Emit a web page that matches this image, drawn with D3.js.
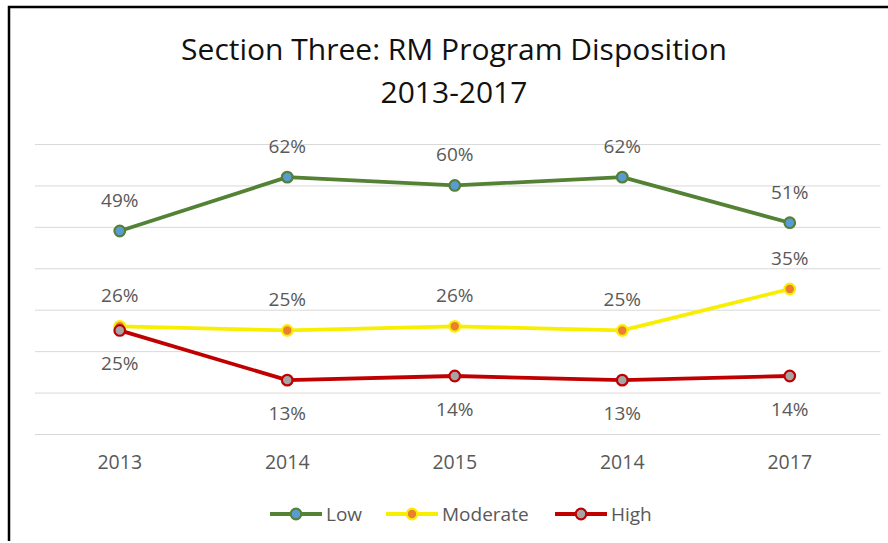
<!DOCTYPE html>
<html>
<head>
<meta charset="utf-8">
<script src="https://cdn.jsdelivr.net/npm/d3@7"></script>
<style>
	body { margin: 0; background: #fff; }
	svg { display: block; font-family: "Open Sans", sans-serif; }
	.label { fill: #595959; font-size: 19px; }
	.grid line { stroke: #d9d9d9; stroke-width: 1; }
</style>
</head>
<body>
<div id="vis1"></div>
<script>
// setting constants
const FRAME_HEIGHT = 543;
const FRAME_WIDTH = 888;
const MARGINS = {left: 36, right: 14.5, top: 144, bottom: 109};

// binding data
const CATEGORIES = ["2013", "2014", "2015", "2014", "2017"];
const LOW = [49, 62, 60, 62, 51];
const MODERATE = [26, 25, 26, 25, 35];
const HIGH = [25, 13, 14, 13, 14];
const SERIES_NAMES = ["Low", "Moderate", "High"];
const Y_TICKS = [0, 10, 20, 30, 40, 50, 60, 70];

const LINE_COLORS = ["#548235", "#f7ee00", "#c00000"];
const MARKER_COLORS = ["#5b9bd5", "#ed7d31", "#a5a5a5"];

const SERIES = [LOW, MODERATE, HIGH];

// adding frame
const FRAME =
d3.select("#vis1")
	.append("svg")
	.attr("height", FRAME_HEIGHT)
	.attr("width", FRAME_WIDTH);

// more constants
const VIS_HEIGHT = FRAME_HEIGHT - MARGINS.top - MARGINS.bottom;
const VIS_WIDTH = FRAME_WIDTH - MARGINS.left - MARGINS.right;

// border (only top and left visible in the picture)
FRAME.append("path")
		.attr("d", "M9,541 L9,7 L888,7")
		.attr("fill", "none")
		.attr("stroke", "#000")
		.attr("stroke-width", 2.5);

// title
FRAME.append("text")
		.attr("x", 454)
		.attr("y", 60)
		.attr("text-anchor", "middle")
		.attr("font-size", "30px")
		.attr("fill", "#111")
		.text("Section Three: RM Program Disposition");

FRAME.append("text")
		.attr("x", 454)
		.attr("y", 103)
		.attr("text-anchor", "middle")
		.attr("font-size", "30px")
		.attr("fill", "#111")
		.text("2013-2017");

// scale functions
const X_SCALE = d3.scaleBand()
					.domain(d3.range(CATEGORIES.length))
					.range([MARGINS.left, MARGINS.left + VIS_WIDTH]);

const Y_SCALE = d3.scaleLinear()
					.domain([0, 70])
					.range([MARGINS.top + VIS_HEIGHT, MARGINS.top]);

const xc = (i) => X_SCALE(i) + X_SCALE.bandwidth() / 2;

// gridlines
FRAME.append("g")
		.attr("class", "grid")
		.attr("transform", "translate(" + (MARGINS.left - 1) + ",0)")
		.call(d3.axisLeft(Y_SCALE).tickValues(Y_TICKS).tickSize(-(VIS_WIDTH + 8)).tickFormat(""))
		.call(g => g.select(".domain").remove());

// x axis
FRAME.append("g")
		.attr("transform", "translate(0," + (MARGINS.top + VIS_HEIGHT) + ")")
		.call(d3.axisBottom(X_SCALE).tickSize(0).tickPadding(21).tickFormat(i => CATEGORIES[i]))
		.call(g => g.select(".domain").remove())
		.call(g => g.selectAll("text")
			.attr("font-family", "Open Sans")
			.attr("font-size", "19.5px")
			.attr("fill", "#595959"));

// lines and points
const LINE = d3.line()
				.x((d, i) => xc(i))
				.y((d) => Y_SCALE(d));

SERIES.forEach((vals, s) => {
	FRAME.append("path")
			.datum(vals)
			.attr("d", LINE)
			.attr("fill", "none")
			.attr("stroke", LINE_COLORS[s])
			.attr("stroke-width", 3.8)
			.attr("stroke-linejoin", "round");

	FRAME.selectAll(".pt" + s)
			.data(vals)
			.enter()
			.append("circle")
				.attr("cx", (d, i) => xc(i))
				.attr("cy", (d) => Y_SCALE(d))
				.attr("r", 5.3)
				.attr("fill", MARKER_COLORS[s])
				.attr("stroke", LINE_COLORS[s])
				.attr("stroke-width", 2.2);
});

// data labels: low and moderate above, high below
SERIES.forEach((vals, s) => {
	FRAME.selectAll(".lab" + s)
			.data(vals)
			.enter()
			.append("text")
				.attr("class", "label")
				.attr("x", (d, i) => xc(i))
				.attr("y", (d) => s === 2 ? Y_SCALE(d) + 40 : Y_SCALE(d) - 24)
				.attr("text-anchor", "middle")
				.text((d) => d + "%");
});

// legend
const LEGEND_X = [270, 386, 555];
const LEGEND_Y = 514;

SERIES_NAMES.forEach((name, s) => {
	const g = FRAME.append("g")
					.attr("transform", "translate(" + LEGEND_X[s] + "," + LEGEND_Y + ")");
	g.append("line")
			.attr("x1", 0)
			.attr("x2", 52)
			.attr("stroke", LINE_COLORS[s])
			.attr("stroke-width", 3.8);
	g.append("circle")
			.attr("cx", 26)
			.attr("r", 5.3)
			.attr("fill", MARKER_COLORS[s])
			.attr("stroke", LINE_COLORS[s])
			.attr("stroke-width", 2.2);
	g.append("text")
			.attr("class", "label")
			.attr("x", 56)
			.attr("y", 7)
			.attr("font-size", "19.5px")
			.text(name);
});
</script>
</body>
</html>
